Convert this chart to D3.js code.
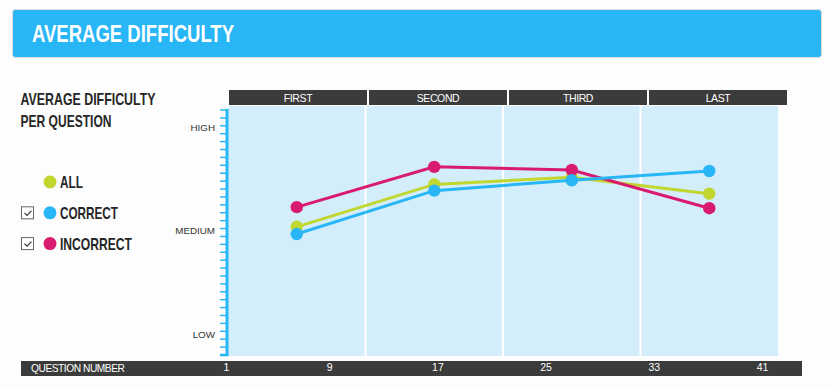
<!DOCTYPE html>
<html>
<head>
<meta charset="utf-8">
<script src="https://cdn.jsdelivr.net/npm/d3@7"></script>
<style>
  html, body { margin: 0; padding: 0; background: #fdfdfd; }
  svg { display: block; }
</style>
</head>
<body>
<div id="viz"></div>
<script>
// chart data
const sections = ["FIRST", "SECOND", "THIRD", "LAST"];
const seriesNames = ["ALL", "CORRECT", "INCORRECT"];
const seriesColors = ["#c1d62f", "#29b6f6", "#d91b6f"];
const checked = [false, true, true];
// difficulty, LOW = 1, MEDIUM = 2, HIGH = 3
const allValues = [2.04, 2.45, 2.52, 2.36];
const correctValues = [1.97, 2.39, 2.49, 2.58];
const incorrectValues = [2.23, 2.62, 2.59, 2.22];
const yLabels = ["LOW", "MEDIUM", "HIGH"];
const yLabelValues = [1, 2, 3];
const questionTicks = [1, 9, 17, 25, 33, 41];

const condensed = "'Liberation Sans Narrow', 'Liberation Sans', Arial, sans-serif";
const sans = "'Liberation Sans', Arial, sans-serif";

let width = 833, height = 387;

const svg = d3.select("#viz")
    .append("svg")
    .attr("width", width)
    .attr("height", height);

// title banner
svg.append("rect")
    .attr("x", 12.5).attr("y", 9.5)
    .attr("width", 809).attr("height", 48)
    .attr("rx", 3)
    .attr("fill", "#29b6f6")
    .attr("stroke", "#dcdcdc");

svg.append("text")
    .attr("x", 32).attr("y", 42)
    .attr("font-family", condensed)
    .attr("font-weight", "bold")
    .attr("font-size", 24)
    .attr("fill", "#fff")
    .attr("textLength", 202)
    .attr("lengthAdjust", "spacingAndGlyphs")
    .text("AVERAGE DIFFICULTY");

// scales
const x = d3.scaleBand().domain(sections).range([228, 778]);
const headerX = d3.scaleBand().domain(sections).range([229, 787]).paddingInner(0.0143);
const q = d3.scaleLinear().domain([1, 41]).range([221, 762]);
const y = d3.scaleLinear().domain([0.8, 3.17]).range([355, 110]);

// plot background + section dividers
svg.append("rect")
    .attr("x", x.range()[0]).attr("y", 106)
    .attr("width", x.range()[1] - x.range()[0]).attr("height", 250)
    .attr("fill", "#d3eefa");

svg.append("g")
    .selectAll("line")
    .data(sections.slice(1))
    .enter().append("line")
    .attr("x1", d => x(d)).attr("x2", d => x(d))
    .attr("y1", 106).attr("y2", 356)
    .attr("stroke", "#fff")
    .attr("stroke-width", 2);

// section headers
const head = svg.append("g")
    .selectAll("g")
    .data(sections)
    .enter().append("g");

head.append("rect")
    .attr("x", d => headerX(d)).attr("y", 90)
    .attr("width", headerX.bandwidth()).attr("height", 15)
    .attr("fill", "#3b3b3b");

head.append("text")
    .attr("x", d => headerX(d) + headerX.bandwidth() / 2)
    .attr("y", 101.5)
    .attr("text-anchor", "middle")
    .attr("font-family", sans)
    .attr("font-size", 10.5)
    .attr("letter-spacing", -0.4)
    .attr("fill", "#fff")
    .text(d => d);

// y axis: minor ticks, thick line, labels
const yAxis = svg.append("g");
const minor = d3.range(32).map(i => y.domain()[0] + i * (y.domain()[1] - y.domain()[0]) / 31);

yAxis.selectAll("line.tick")
    .data(minor)
    .enter().append("line")
    .attr("class", "tick")
    .attr("x1", 220).attr("x2", 227)
    .attr("y1", d => y(d)).attr("y2", d => y(d))
    .attr("stroke", "#29b6f6")
    .attr("stroke-width", 1.5);

yAxis.append("line")
    .attr("x1", 227).attr("x2", 227)
    .attr("y1", 109).attr("y2", 356)
    .attr("stroke", "#29b6f6")
    .attr("stroke-width", 3);

yAxis.append("line")
    .attr("x1", 220).attr("x2", 228.5)
    .attr("y1", 355).attr("y2", 355)
    .attr("stroke", "#29b6f6")
    .attr("stroke-width", 2.5);

yAxis.selectAll("text")
    .data(yLabelValues)
    .enter().append("text")
    .attr("x", 215)
    .attr("y", d => y(d))
    .attr("dy", "0.35em")
    .attr("text-anchor", "end")
    .attr("font-family", sans)
    .attr("font-size", 9.8)
    .attr("fill", "#333")
    .text((d, i) => yLabels[i]);

// bottom bar + question axis
svg.append("rect")
    .attr("x", 21).attr("y", 361)
    .attr("width", 781).attr("height", 15)
    .attr("fill", "#3b3b3b");

svg.append("text")
    .attr("x", 31).attr("y", 372)
    .attr("font-family", sans)
    .attr("font-size", 10.2)
    .attr("letter-spacing", -0.45)
    .attr("fill", "#fff")
    .text("QUESTION NUMBER");

const xAxis = svg.append("g")
    .attr("transform", "translate(0,361)")
    .call(d3.axisBottom(q).tickValues(questionTicks).tickSize(0).tickPadding(3));
xAxis.select(".domain").remove();
xAxis.selectAll("text")
    .attr("font-family", sans)
    .attr("font-size", 10.5)
    .attr("fill", "#fff")
    .attr("dx", (d, i) => i === 0 ? 5 : 0);   // first label pushed inside the plot

// series
const series = [allValues, correctValues, incorrectValues];
const drawOrder = [0, 2, 1];
const line = d3.line()
    .x((d, i) => x(sections[i]) + x.bandwidth() / 2)
    .y(d => y(d));

const lines = svg.append("g");
drawOrder.forEach(k => {
    const g = lines.append("g");
    g.append("path")
        .attr("d", line(series[k]))
        .attr("fill", "none")
        .attr("stroke", seriesColors[k])
        .attr("stroke-width", 3);
    g.selectAll("circle")
        .data(series[k])
        .enter().append("circle")
        .attr("cx", (d, i) => x(sections[i]) + x.bandwidth() / 2)
        .attr("cy", d => y(d))
        .attr("r", 6.2)
        .attr("fill", seriesColors[k]);
});

// legend
const legend = svg.append("g")
    .attr("font-family", condensed)
    .attr("font-weight", "bold")
    .attr("fill", "#262626");

legend.append("text")
    .attr("x", 20.5).attr("y", 105)
    .attr("font-size", 17)
    .attr("textLength", 135)
    .attr("lengthAdjust", "spacingAndGlyphs")
    .text("AVERAGE DIFFICULTY");
legend.append("text")
    .attr("x", 20.5).attr("y", 127)
    .attr("font-size", 17)
    .attr("textLength", 91)
    .attr("lengthAdjust", "spacingAndGlyphs")
    .text("PER QUESTION");

const itemLen = [23, 58, 72];
const item = legend.selectAll("g.item")
    .data(seriesNames)
    .enter().append("g")
    .attr("class", "item")
    .attr("transform", (d, i) => `translate(0,${182 + i * 30.8})`);

item.append("circle")
    .attr("cx", 50).attr("cy", 0)
    .attr("r", 6.5)
    .attr("fill", (d, i) => seriesColors[i]);

item.append("text")
    .attr("x", 60).attr("y", 6.2)
    .attr("font-size", 17)
    .attr("textLength", (d, i) => itemLen[i])
    .attr("lengthAdjust", "spacingAndGlyphs")
    .text(d => d);

const box = item.filter((d, i) => checked[i]);
box.append("rect")
    .attr("x", 21.5).attr("y", -6)
    .attr("width", 12).attr("height", 12)
    .attr("fill", "#fff")
    .attr("stroke", "#666");
box.append("path")
    .attr("d", "M24.5,0 L27,2.5 L31.5,-2")
    .attr("fill", "none")
    .attr("stroke", "#333")
    .attr("stroke-width", 1.2);
</script>
</body>
</html>
